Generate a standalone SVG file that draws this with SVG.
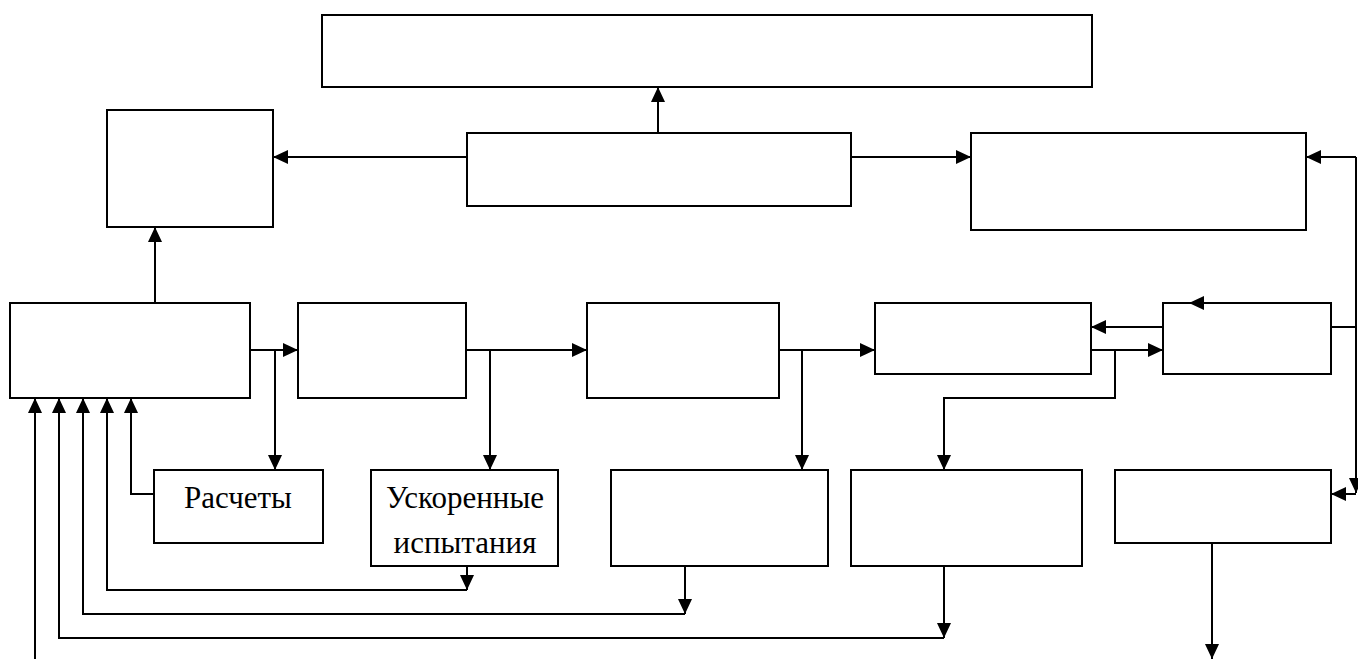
<svg xmlns="http://www.w3.org/2000/svg" width="1358" height="659" viewBox="0 0 1358 659">
<style>
.b{fill:#fff;stroke:#000;stroke-width:2}
.c{fill:none;stroke:#000;stroke-width:2}
.t{font-family:'Liberation Serif','Times New Roman','DejaVu Serif',serif;font-size:31px;fill:#000;text-anchor:middle}
</style>
<defs>
<marker id="a" viewBox="0 0 15 14" refX="15" refY="7" markerWidth="15" markerHeight="14" markerUnits="userSpaceOnUse" orient="auto">
<path d="M0,0 L15,7 L0,14 Z" fill="#000"/>
</marker>
</defs>
<rect width="1358" height="659" fill="#fff"/>
<g id="n-top"><rect class="b" x="322" y="15" width="770" height="72"/></g>
<g id="n-ul"><rect class="b" x="107" y="110" width="166" height="117"/></g>
<g id="n-mid"><rect class="b" x="467" y="133" width="384" height="73"/></g>
<g id="n-ur"><rect class="b" x="971" y="133" width="335" height="97"/></g>
<g id="n-a"><rect class="b" x="10" y="303" width="240" height="95"/></g>
<g id="n-b"><rect class="b" x="298" y="303" width="168" height="95"/></g>
<g id="n-c"><rect class="b" x="587" y="303" width="192" height="95"/></g>
<g id="n-d"><rect class="b" x="875" y="303" width="216" height="71"/></g>
<g id="n-e"><rect class="b" x="1163" y="303" width="168" height="71"/></g>
<g id="n-calc"><rect class="b" x="154" y="470" width="169" height="73"/><text class="t" x="238" y="508">Расчеты</text></g>
<g id="n-acc"><rect class="b" x="371" y="470" width="187" height="96"/><text class="t" x="465" y="508">Ускоренные</text><text class="t" x="465" y="553">испытания</text></g>
<g id="n-g"><rect class="b" x="611" y="470" width="217" height="96"/></g>
<g id="n-h"><rect class="b" x="851" y="470" width="231" height="96"/></g>
<g id="n-f"><rect class="b" x="1115" y="470" width="216" height="73"/></g>
<g id="connectors">
<path class="c" d="M658,133 V87" marker-end="url(#a)"/>
<path class="c" d="M467,157 H273" marker-end="url(#a)"/>
<path class="c" d="M851,157 H971" marker-end="url(#a)"/>
<path class="c" d="M1356,157 H1306" marker-end="url(#a)"/>
<path class="c" d="M1356,157 V327"/>
<path class="c" d="M155,303 V227" marker-end="url(#a)"/>
<path class="c" d="M250,350 H298" marker-end="url(#a)"/>
<path class="c" d="M275,350 V470" marker-end="url(#a)"/>
<path class="c" d="M466,350 H587" marker-end="url(#a)"/>
<path class="c" d="M490,350 V470" marker-end="url(#a)"/>
<path class="c" d="M779,350 H875" marker-end="url(#a)"/>
<path class="c" d="M802,350 V470" marker-end="url(#a)"/>
<path class="c" d="M1163,327 H1091" marker-end="url(#a)"/>
<path class="c" d="M1091,350 H1163" marker-end="url(#a)"/>
<path class="c" d="M1115,350 V398 H944 V470" marker-end="url(#a)"/>
<path class="c" d="M1212,303 H1189" marker-end="url(#a)"/>
<path class="c" d="M1331,327 H1356 V493" marker-end="url(#a)"/>
<path class="c" d="M1356,494 H1331" marker-end="url(#a)"/>
<path class="c" d="M154,494 H131 V398" marker-end="url(#a)"/>
<path class="c" d="M467,566 V590" marker-end="url(#a)"/>
<path class="c" d="M467,590 H107 V398" marker-end="url(#a)"/>
<path class="c" d="M685,566 V614" marker-end="url(#a)"/>
<path class="c" d="M685,614 H83 V398" marker-end="url(#a)"/>
<path class="c" d="M944,566 V638" marker-end="url(#a)"/>
<path class="c" d="M944,638 H59 V398" marker-end="url(#a)"/>
<path class="c" d="M35,659 V398" marker-end="url(#a)"/>
<path class="c" d="M1212,543 V659" marker-end="url(#a)"/>
</g>
</svg>
